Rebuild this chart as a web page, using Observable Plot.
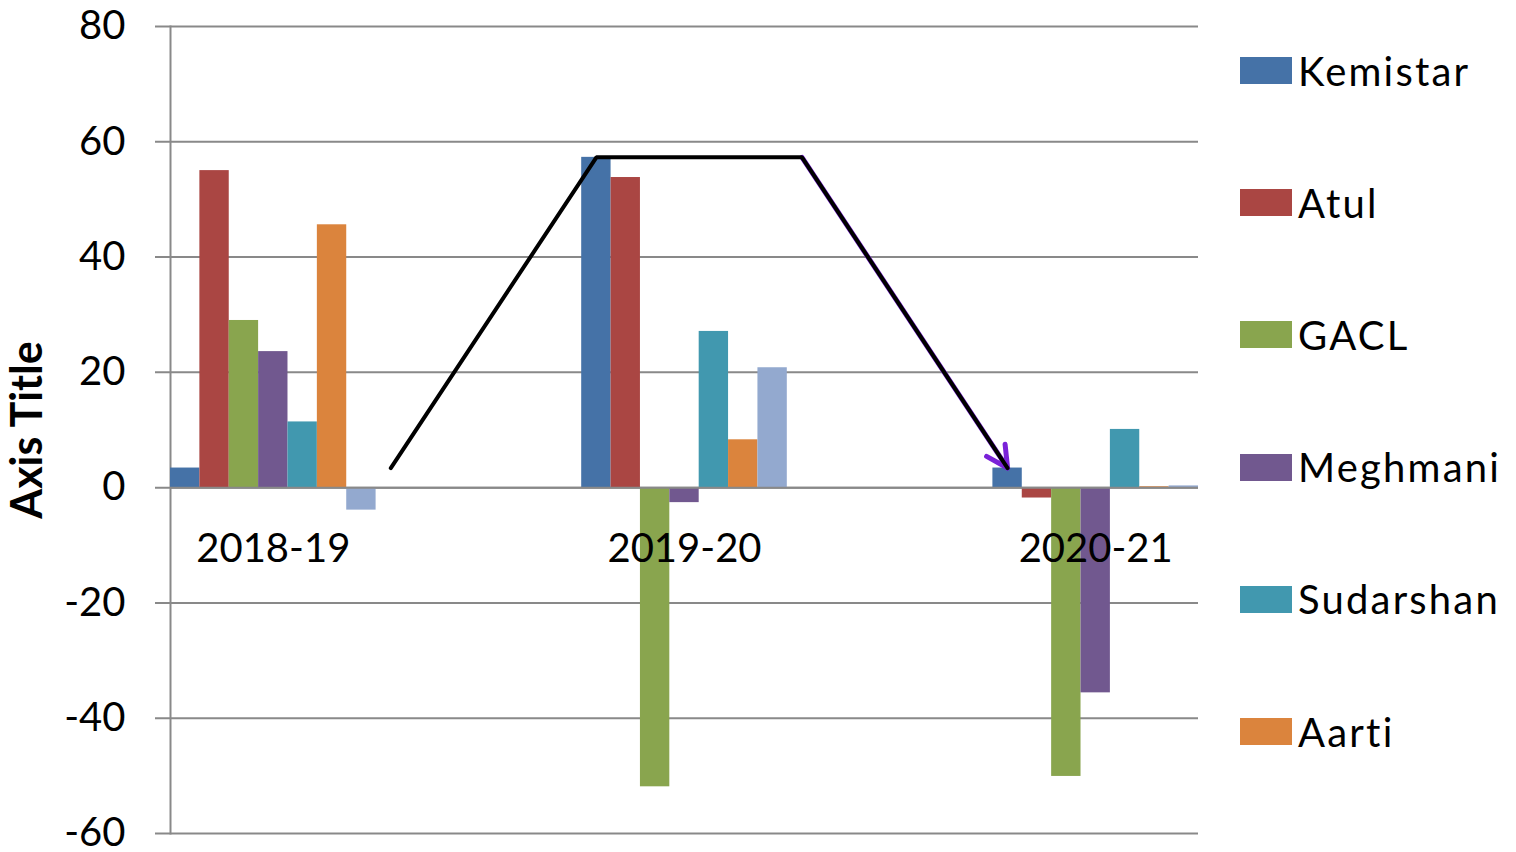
<!DOCTYPE html>
<html>
<head>
<meta charset="utf-8">
<script src="https://cdn.jsdelivr.net/npm/d3@7"></script>
<script src="https://cdn.jsdelivr.net/npm/@observablehq/plot@0.6"></script>
<style>
  html, body { margin: 0; padding: 0; background: #fff; overflow: hidden; }
  #wrap { position: relative; width: 1516px; height: 852px; }
  #legend { position: absolute; left: 1240px; top: 0; font-family: Lato, sans-serif; font-size: 40px; color: #000; letter-spacing: 2.2px; }
  .item { position: absolute; left: 0; display: flex; align-items: center; height: 27px; white-space: nowrap; }
  .sw { width: 52px; height: 27px; margin-right: 6px; flex: none; }
  .lb { line-height: 40px; }
</style>
</head>
<body>
<div id="wrap"><div id="legend"></div></div>
<script>
// ---- data ----
const categories = ["2018-19", "2019-20", "2020-21"];
const series = ["Kemistar", "Atul", "GACL", "Meghmani", "Sudarshan", "Aarti", "Series7"];
const colors = ["#4572A7", "#AA4643", "#89A54E", "#71588F", "#4198AF", "#DB843D", "#93A9CF"];
const kemistar  = [3.4, 57.3, 3.4];
const atul      = [55.0, 53.8, -1.8];
const gacl      = [29.0, -51.9, -50.1];
const meghmani  = [23.6, -2.6, -35.6];
const sudarshan = [11.4, 27.1, 10.1];
const aarti     = [45.6, 8.3, 0.15];
const series7   = [-3.9, 20.8, 0.3];
const yTicks = [-60, -40, -20, 0, 20, 40, 60, 80];
const legendShown = ["Kemistar", "Atul", "GACL", "Meghmani", "Sudarshan", "Aarti"];

const seriesValues = [kemistar, atul, gacl, meghmani, sudarshan, aarti, series7];

// slot domain: each category's cluster followed by an equal-width empty gap
const slots = [];
categories.forEach((c, ci) => {
  series.forEach(s => slots.push(c + "|" + s));
  if (ci < categories.length - 1) series.forEach((s, i) => slots.push(c + "|gap" + i));
});

const table = [];
categories.forEach((c, ci) => {
  series.forEach((s, si) => {
    table.push({category: c, series: s, slot: c + "|" + s, value: seriesValues[si][ci]});
  });
});

// annotation arrow following Kemistar
const arrowPts = [
  {x: categories[0] + "|gap0", y: kemistar[0]},
  {x: categories[1] + "|" + series[0], y: kemistar[1]},
  {x: categories[1] + "|gap0", y: kemistar[1]},
  {x: categories[2] + "|" + series[0], y: kemistar[2]}
];
const arrowSeg = [{x1: arrowPts[2].x, y1: arrowPts[2].y, x2: arrowPts[3].x, y2: arrowPts[3].y}];

const grid = "#898989";

const chart = Plot.plot({
  width: 1516,
  height: 852,
  marginLeft: 170,
  marginRight: 318,
  marginTop: 26,
  marginBottom: 19,
  style: {fontFamily: "Lato, sans-serif", background: "transparent", color: "#000"},
  x: {domain: slots, padding: 0, round: false, axis: null},
  y: {domain: [-60, 80], axis: null},
  color: {domain: series, range: colors},
  marks: [
    Plot.ruleY(yTicks, {stroke: grid, strokeWidth: 2, insetLeft: -15}),
    Plot.frame({anchor: "left", stroke: grid, strokeWidth: 2}),
    Plot.axisY({ticks: yTicks, tickSize: 0, tickPadding: 45, fontSize: 40, label: null, tickFormat: d => String(d)}),
    Plot.text(["Axis Title"], {frameAnchor: "left", textAnchor: "middle", rotate: -90, dx: -142, fontSize: 43, fontWeight: "bold", fill: "#000"}),
    Plot.barY(table, {x: "slot", y: "value", fill: "series"}),
    Plot.ruleY([0], {stroke: grid, strokeWidth: 2}),
    Plot.text(categories, {x: c => c + "|" + series[3], y: 0, dy: 62, text: d => d, fontSize: 40, fill: "#000"}),
    Plot.arrow(arrowSeg, {x1: "x1", y1: "y1", x2: "x2", y2: "y2", stroke: "#7A22D8", strokeWidth: 5, headLength: 7.2, headAngle: 55}),
    Plot.line(arrowPts, {x: "x", y: "y", stroke: "#000", strokeWidth: 4, strokeLinejoin: "miter"})
  ]
});

const wrap = document.getElementById("wrap");
wrap.insertBefore(chart, wrap.firstChild);

const legend = document.getElementById("legend");
legendShown.forEach((s, i) => {
  const item = document.createElement("div");
  item.className = "item";
  item.style.top = (57 + i * 132.2) + "px";
  const sw = document.createElement("div");
  sw.className = "sw";
  sw.style.background = colors[series.indexOf(s)];
  const lb = document.createElement("span");
  lb.className = "lb";
  lb.textContent = s;
  item.appendChild(sw);
  item.appendChild(lb);
  legend.appendChild(item);
});
</script>
</body>
</html>
